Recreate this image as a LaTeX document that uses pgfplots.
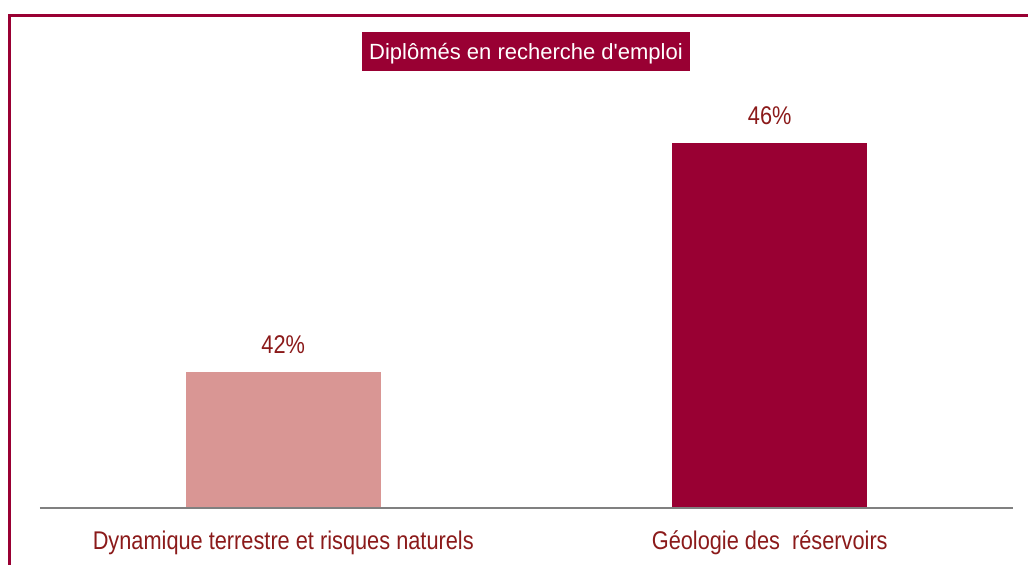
\documentclass[border=0pt]{standalone}
\usepackage{pgfplots}
\pgfplotsset{compat=1.18}
\usepackage{fontspec}
\setmainfont{Liberation Sans}
\newfontfamily\narrowfont{Liberation Sans}[FakeStretch=0.85]
\definecolor{darkbar}{HTML}{990033}
\definecolor{lightbar}{HTML}{D99694}
\definecolor{txtred}{HTML}{8B1A1A}
\definecolor{basegray}{HTML}{808080}
\begin{document}
\begin{tikzpicture}
\useasboundingbox (0,0) rectangle (514pt,282.5pt);
\clip (0,0) rectangle (514pt,282.5pt);
\draw[darkbar, line width=1.2pt] (4.75pt,274.75pt) rectangle (540pt,-20pt);
\begin{axis}[
  at={(20pt,28.5pt)}, anchor=south west,
  scale only axis, width=486.5pt, height=239.9pt,
  xmin=-0.5, xmax=1.5, ymin=39.62, ymax=48,
  ybar, bar width=97.5pt, bar shift=0pt,
  axis on top,
  axis x line*=bottom, hide y axis,
  x axis line style={basegray, line width=1pt},
  xtick={0,1}, xtick style={draw=none}, major tick length=0pt,
  xticklabels={Dynamique terrestre et risques naturels, Géologie des\ \ réservoirs},
  xticklabel style={font=\narrowfont\fontsize{12.8}{15}\selectfont, text=txtred, anchor=base, yshift=-21pt},
  nodes near coords={\pgfmathprintnumber[assume math mode=true]{\pgfplotspointmeta}\%},
  every node near coord/.append style={font=\narrowfont\fontsize{12.8}{15}\selectfont, text=txtred, anchor=base, yshift=9pt},
]
\addplot[fill=lightbar, draw=none] coordinates {(0,42)};
\addplot[fill=darkbar, draw=none] coordinates {(1,46)};
\end{axis}
\node[fill=darkbar, text=white, font=\fontsize{11}{13}\selectfont, minimum width=164pt, minimum height=19.5pt, inner sep=0pt, text depth=0.5pt] at (263pt,256.5pt) {Diplômés en recherche d\textquotesingle emploi};
\end{tikzpicture}
\end{document}
